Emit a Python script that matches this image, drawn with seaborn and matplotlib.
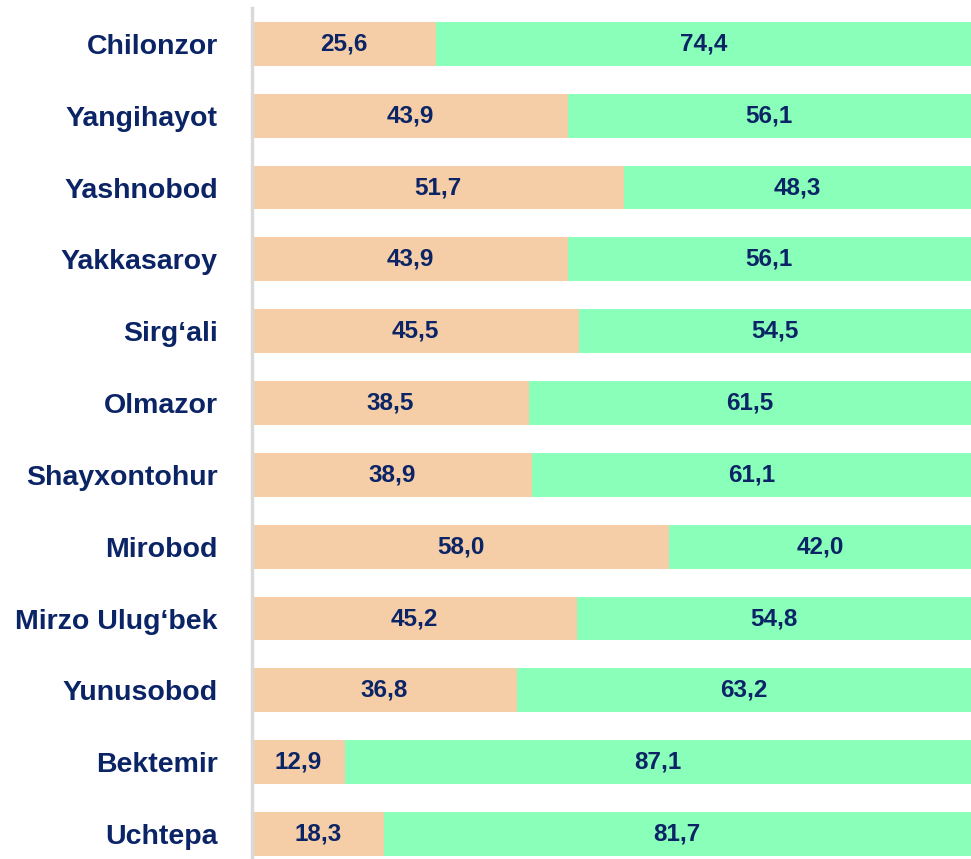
import pandas as pd
import numpy as np
import matplotlib.pyplot as plt
import seaborn as sns

# Data (shares in %)
districts = ["Chilonzor", "Yangihayot", "Yashnobod", "Yakkasaroy", "Sirg‘ali", "Olmazor",
             "Shayxontohur", "Mirobod", "Mirzo Ulug‘bek", "Yunusobod", "Bektemir", "Uchtepa"]
share_a = [25.6, 43.9, 51.7, 43.9, 45.5, 38.5, 38.9, 58.0, 45.2, 36.8, 12.9, 18.3]
share_b = [74.4, 56.1, 48.3, 56.1, 54.5, 61.5, 61.1, 42.0, 54.8, 63.2, 87.1, 81.7]

sns.set_style("white")
plt.rcParams['font.family'] = ['Liberation Sans', 'DejaVu Sans']

navy = "#0B2466"
peach = "#F5CEA8"
green = "#8AFFBA"

df = pd.DataFrame({"district": districts, "a": share_a, "b": share_b})
df["total"] = df["a"] + df["b"]

fig = plt.figure(figsize=(9.71, 8.59), dpi=100)
ax = fig.add_axes([252 / 971, 0, 1 - 252 / 971, 1 - 8 / 859])

# stacked: draw the full bar in green first, then the first part in peach on top
sns.barplot(data=df, x="total", y="district", color=green, width=0.61,
            saturation=1, linewidth=0, ax=ax, orient="h")
sns.barplot(data=df, x="a", y="district", color=peach, width=0.61,
            saturation=1, linewidth=0, ax=ax, orient="h")

for i, (a, b) in enumerate(zip(share_a, share_b)):
    ax.text(a / 2, i, f"{a:.1f}".replace(".", ","), ha="center", va="center",
            fontsize=17.5, fontweight="bold", color=navy)
    ax.text(a + b / 2, i, f"{b:.1f}".replace(".", ","), ha="center", va="center",
            fontsize=17.5, fontweight="bold", color=navy)

ax.set_xlim(0, 100)
ax.set_ylim(11 + 25 / 71.8, -0.5)
ax.set_xlabel("")
ax.set_ylabel("")
ax.set_xticks([])
ax.tick_params(axis="y", length=0, pad=24.5)
for lbl in ax.get_yticklabels():
    lbl.set_fontsize(20.5)
    lbl.set_fontweight("bold")
    lbl.set_color(navy)

for side in ["top", "right", "bottom"]:
    ax.spines[side].set_visible(False)
ax.spines["left"].set_color("#D9D9D9")
ax.spines["left"].set_linewidth(2.5)

plt.savefig("out.png", dpi=100)
